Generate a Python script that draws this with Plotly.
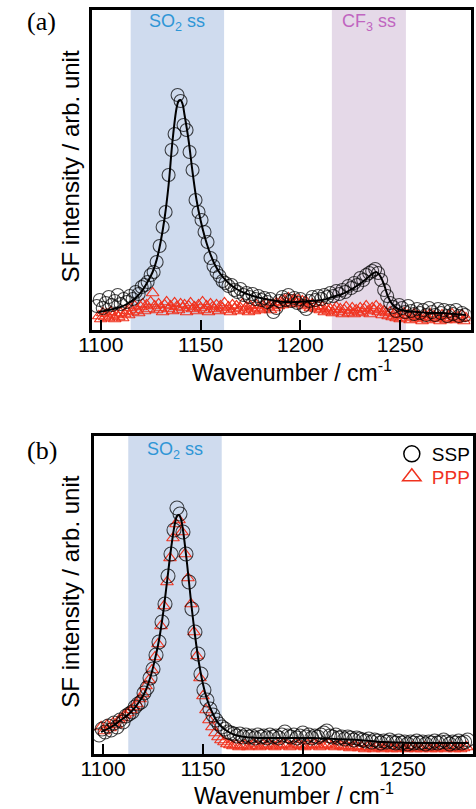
import plotly.graph_objects as go

# ---- panel (a) data (arb. units) ----
ssp_a_y = [24, 30, 22, 27, 33, 25, 29, 35, 26, 31, 28, 34, 31, 38, 36, 43, 45, 48, 55, 58,
           68, 84, 103, 118, 155, 180, 196, 235, 229, 205, 200, 178, 160, 130, 118, 110, 98, 88, 72, 64,
           58, 54, 49, 47, 44, 45, 40, 38, 41, 35, 37, 33, 36, 31, 34, 30, 32, 28, 31, 18,
           22, 29, 33, 30, 35, 29, 32, 27, 31, 24, 21, 29, 33, 30, 34, 31, 35, 33, 37, 34,
           39, 36, 40, 38, 44, 42, 47, 45, 52, 50, 55, 57, 59, 61, 57, 50, 40, 34, 27, 23,
           19, 25, 22, 18, 24, 19, 16, 21, 17, 20, 15, 22, 18, 15, 21, 17, 20, 14, 19, 16,
           20, 14, 17, 15]
ssp_a_x = [1098 + 1.5 * i for i in range(len(ssp_a_y))]

ppp_a_y = [14, 11, 17, 13, 16, 12, 18, 14, 11, 15,
           13, 17, 12, 16, 19, 15, 22, 18, 24, 20,
           17, 23, 26, 19, 25, 21, 28, 37, 24, 20,
           26, 22, 18, 25, 28, 21, 24, 19, 27, 23,
           20, 26, 22, 25, 18, 24, 27, 21, 23, 19,
           25, 22, 28, 20, 24, 18, 26, 23, 21, 25,
           19, 24, 22, 27, 20, 23, 18, 25, 21, 24,
           19, 22, 26, 20, 23, 18, 24, 21, 19, 25,
           22, 20, 24, 21, 26, 23, 20, 25, 22, 27,
           24, 28, 25, 30, 27, 32, 26, 29, 31, 27,
           30, 26, 29, 24, 28, 25, 22, 26, 23, 21,
           24, 20, 23, 18, 22, 19, 21, 17, 20, 23,
           18, 21, 16, 20, 23, 17, 19, 22, 16, 20,
           18, 22, 17, 21, 24, 19, 16, 22, 20, 24,
           18, 21, 15, 19, 17, 14, 18, 13, 16, 12,
           15, 11, 14, 17, 12, 15, 10, 13, 16, 11,
           14, 12, 9, 15, 13, 10, 16, 12, 14, 11,
           13, 9, 15, 12, 10, 14, 11, 16, 12, 10,
           13, 11, 15, 9, 12]
ppp_a_x = [1099 + i for i in range(len(ppp_a_y))]

fit_a_x = [1099, 1104, 1110, 1114, 1118, 1121, 1124, 1126, 1128, 1130, 1132, 1134, 1136, 1138,
           1139, 1140, 1141, 1142, 1144, 1146, 1148, 1150, 1152, 1154, 1157, 1160, 1164, 1168,
           1172, 1178, 1185, 1192, 1198, 1205, 1211, 1216, 1221, 1225, 1229, 1233, 1236, 1238,
           1240, 1242, 1244, 1246, 1249, 1253, 1259, 1265, 1271, 1277, 1283]
fit_a_y = [18, 20, 23, 27, 33, 40, 50, 58, 70, 88, 112, 145, 190, 222,
           229, 230, 226, 215, 190, 158, 130, 110, 94, 81, 66, 56, 47, 41,
           37, 33, 30, 28, 28, 29, 30, 33, 36, 40, 45, 51, 56, 58,
           54, 45, 33, 26, 21, 19, 18, 17, 17, 16, 15]

# ---- panel (b) data (arb. units) ----
ssp_b_y = [19, 25, 22, 28, 24, 31, 27, 34, 32, 38, 40, 42, 47, 50, 52, 61, 66, 76, 85, 99,
           112, 132, 150, 178, 200, 224, 246, 240, 222, 200, 172, 145, 122, 100, 80, 64, 54, 45, 39, 34,
           30, 27, 25, 22, 21, 20, 18, 20, 17, 19, 17, 18, 16, 19, 17, 18, 16, 19, 17, 18,
           16, 19, 22, 18, 17, 19, 16, 18, 21, 17, 19, 16, 18, 17, 19, 21, 23, 18, 17, 19,
           16, 17, 15, 17, 16, 14, 16, 15, 14, 13, 15, 12, 14, 13, 11, 13, 12, 14, 12, 11,
           13, 11, 12, 10, 12, 11, 13, 11, 12, 10, 12, 11, 13, 11, 12, 14, 12, 10, 12, 11,
           13, 11, 12, 14]
ssp_b_x = [1098 + 1.5 * i for i in range(len(ssp_b_y))]

ppp_b_y = [27, 23, 29, 26, 31, 29, 34, 36, 39, 41, 44, 47, 50, 55, 60, 68, 74, 84, 97, 110,
           128, 148, 172, 196, 216, 230, 234, 222, 200, 176, 150, 122, 98, 76, 58, 44, 34, 27, 21, 17,
           14, 12, 10, 9, 8, 9, 7, 8, 9, 7, 8, 10, 8, 7, 9, 8, 10, 8, 7, 9,
           8, 10, 9, 7, 8, 10, 9, 8, 7, 9, 8, 10, 9, 7, 8, 9, 10, 8, 7, 9,
           8, 7, 8, 6, 7, 8, 6, 7, 5, 7, 6, 5, 7, 6, 5, 6, 7, 5, 6, 5,
           7, 6, 5, 6, 7, 5, 6, 5, 7, 6, 5, 6, 5, 7, 6, 5, 6, 7, 5, 6,
           5, 6, 7]
ppp_b_x = [1099 + 1.5 * i for i in range(len(ppp_b_y))]

fit_b_x = [1099, 1104, 1109, 1114, 1118, 1121, 1124, 1126, 1128, 1130, 1132, 1134, 1136, 1137,
           1138, 1139, 1140, 1142, 1144, 1146, 1148, 1150, 1152, 1155, 1158, 1162, 1166, 1171,
           1180, 1192, 1205, 1216, 1228, 1240, 1255, 1270, 1283]
fit_b_y = [22, 27, 34, 42, 52, 62, 79, 95, 114, 140, 172, 205, 231, 238,
           239, 235, 224, 191, 153, 119, 91, 70, 55, 40, 30, 23, 19, 17,
           16, 16, 16, 15, 14, 12, 11, 11, 11]

# shaded bands
so2_a = [1115, 1161.8]
cf3_a = [1215.8, 1252.9]
so2_b = [1112.6, 1159.4]

W, H = 476, 809
BLACK_MK = "rgba(0,0,0,0.72)"
RED = "#f0321e"
SANS = "Liberation Sans, Arial, sans-serif"

def py(p):  # pixel row -> paper y
    return 1 - p / H

fig = go.Figure()

def add_panel(xs, ys, xt, yt, xf, yf, xa, ya, size_c):
    fig.add_trace(go.Scatter(x=xt, y=yt, xaxis=xa, yaxis=ya, mode="markers", showlegend=False,
                             marker=dict(symbol="triangle-up-open", size=11, color=RED,
                                         line=dict(width=1.2, color=RED))))
    fig.add_trace(go.Scatter(x=xs, y=ys, xaxis=xa, yaxis=ya, mode="markers", showlegend=False,
                             marker=dict(symbol="circle-open", size=size_c, color=BLACK_MK,
                                         line=dict(width=1.1, color=BLACK_MK))))
    fig.add_trace(go.Scatter(x=xf, y=yf, xaxis=xa, yaxis=ya, mode="lines", showlegend=False,
                             line=dict(color="black", width=2, shape="spline")))

add_panel(ssp_a_x, ssp_a_y, ppp_a_x, ppp_a_y, fit_a_x, fit_a_y, "x", "y", 13)
add_panel(ssp_b_x, ssp_b_y, ppp_b_x, ppp_b_y, fit_b_x, fit_b_y, "x2", "y2", 14)

# legend entries for panel (b), one legend box each so the rows sit tight
fig.add_trace(go.Scatter(x=[None], y=[None], xaxis="x2", yaxis="y2", mode="markers", name="SSP",
                         legend="legend",
                         marker=dict(symbol="circle-open", size=16, color="black",
                                     line=dict(width=1.5, color="black"))))
fig.add_trace(go.Scatter(x=[None], y=[None], xaxis="x2", yaxis="y2", mode="markers",
                         name="<span style='color:%s'>PPP</span>" % RED, legend="legend2",
                         marker=dict(symbol="triangle-up-open", size=16, color=RED,
                                     line=dict(width=1.5, color=RED))))

shapes = []
for (x0, x1), xr, col in [(so2_a, "x", "#cfdbee"), (cf3_a, "x", "#e5d9e8"), (so2_b, "x2", "#cfdbee")]:
    shapes.append(dict(type="rect", xref=xr, yref=("y" if xr == "x" else "y2") + " domain",
                       x0=x0, x1=x1, y0=0, y1=1, fillcolor=col, line=dict(width=0), layer="below"))

xaxis_style = dict(showgrid=False, zeroline=False, showline=True, linecolor="black", linewidth=2.5,
                   mirror=True, ticks="inside", ticklen=10, tickwidth=2, tickcolor="black",
                   tick0=1100, dtick=50, ticklabelstandoff=-6,
                   tickfont=dict(family=SANS, size=21, color="black"))
yaxis_style = dict(showgrid=False, zeroline=False, showline=True, linecolor="black", linewidth=2.5,
                   mirror=True, ticks="", showticklabels=False)

annotations = [
    dict(text="(a)", x=30 / W, y=py(22), font=dict(family="Liberation Serif", size=26)),
    dict(text="(b)", x=30 / W, y=py(450), font=dict(family="Liberation Serif", size=26)),
    dict(text="SF intensity / arb. unit", textangle=-90, x=60 / W, y=py(166.5),
         font=dict(family=SANS, size=24)),
    dict(text="SF intensity / arb. unit", textangle=-90, x=60 / W, y=py(591.7),
         font=dict(family=SANS, size=24)),
    dict(text="Wavenumber / cm<sup>-1</sup>", x=289 / W, y=py(371), font=dict(family=SANS, size=23)),
    dict(text="Wavenumber / cm<sup>-1</sup>", x=291 / W, y=py(794), font=dict(family=SANS, size=23)),
    dict(text="SO<sub>2</sub> ss", xref="x", x=sum(so2_a) / 2, y=py(23),
         font=dict(family=SANS, size=18, color="#2e96d6")),
    dict(text="CF<sub>3</sub> ss", xref="x", x=sum(cf3_a) / 2, y=py(23),
         font=dict(family=SANS, size=18, color="#c065c0")),
    dict(text="SO<sub>2</sub> ss", xref="x2", x=sum(so2_b) / 2, y=py(450),
         font=dict(family=SANS, size=18, color="#2e96d6")),
]
for a in annotations:
    a.setdefault("xref", "paper")
    a.update(yref="paper", showarrow=False, xanchor="center", yanchor="middle")
    a["font"].setdefault("color", "black")

legend_style = dict(x=392 / W, xanchor="left", yanchor="top", bgcolor="rgba(0,0,0,0)",
                    font=dict(family=SANS, size=19, color="black"))

fig.update_layout(
    width=W, height=H, margin=dict(l=0, r=0, t=0, b=0),
    paper_bgcolor="white", plot_bgcolor="rgba(0,0,0,0)",
    xaxis=dict(xaxis_style, domain=[81.7 / W, 473.5 / W], range=[1095.6, 1285.3], anchor="y"),
    yaxis=dict(yaxis_style, domain=[py(330), py(10)], range=[0, 320], anchor="x"),
    xaxis2=dict(xaxis_style, domain=[83.3 / W, 1.0], range=[1095.2, 1285.2], anchor="y2"),
    yaxis2=dict(yaxis_style, domain=[py(754), py(435.7)], range=[0, 318.3], anchor="x2"),
    shapes=shapes, annotations=annotations,
    legend=dict(legend_style, y=py(435)),
    legend2=dict(legend_style, y=py(458)),
)

# drop the default body margin so the figure sits at the page origin
fig.write_html("out.html", config={"displayModeBar": False},
               post_script="document.body.style.margin='0';")
